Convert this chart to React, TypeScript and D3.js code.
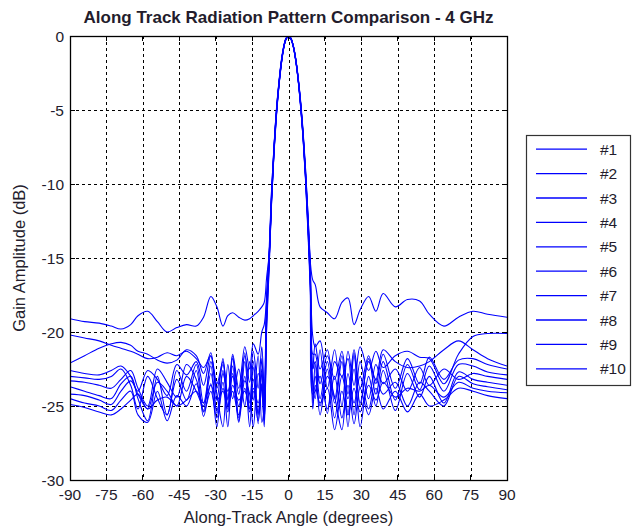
import React from "react";
import * as d3 from "d3";

// Along-track angle grid (degrees), shared by all series
const angles: number[] = [
  -90, -84, -78, -73, -69, -65, -62, -58, -54, -50, -46, -42, -38, -35, -32, -29.5, -27, -25, -23, -20.5, -18, -16, -14.5, -12.5, -11, -10,
  -9, -8, -7, -6, -5, -4, -3, -2, -1, 0, 1, 2, 3, 4, 5, 6, 7, 8, 9, 10,
  11, 13, 16, 19, 22, 24.5, 27, 29.5, 33, 36, 39, 44, 49, 54, 58, 64, 70, 76, 82, 90,
];

// Gain amplitude (dB) for each pattern
const s1: number[] = [
  -19.1, -19.3, -19.4, -19.6, -19.8, -19.5, -18.9, -18.6, -19.3, -20.0, -19.7, -19.5, -19.6, -19.0, -17.6, -18.3, -19.6, -18.9, -18.7, -19.0, -19.2, -19.1, -18.9, -18.6, -18.3, -18.0,
  -16.3, -14.8, -11.0, -7.8, -5.3, -3.4, -1.9, -0.8, -0.2, 0, -0.15, -0.7, -1.6, -2.9, -4.5, -6.5, -9.0, -12.0, -15.3, -16.5,
  -16.8, -18.3, -18.7, -19.1, -18.0, -17.7, -19.5, -18.5, -17.6, -18.6, -17.4, -18.3, -17.8, -17.9, -18.8, -19.6, -19.0, -18.6, -18.8, -19.0,
];
const s2: number[] = [
  -20.2, -20.4, -20.6, -20.9, -21.1, -21.3, -21.5, -21.8, -21.7, -21.4, -21.6, -21.3, -21.8, -22.4, -21.6, -23.5, -22.0, -24.5, -21.5, -23.8, -21.0, -22.5, -20.8, -21.5, -20.0, -19.5,
  -17.6, -15.0, -10.6, -7.6, -5.1, -3.3, -1.8, -0.75, -0.15, 0, -0.2, -0.75, -1.7, -3.0, -4.7, -6.8, -9.4, -12.6, -16.2, -20.3,
  -21.0, -20.6, -23.8, -21.2, -25.0, -21.3, -23.6, -21.0, -22.6, -21.3, -22.4, -21.6, -21.3, -21.7, -21.8, -23.5, -21.5, -20.3, -20.1, -20.1,
];
const s3: number[] = [
  -22.1, -21.6, -21.1, -20.8, -20.7, -20.9, -21.3, -21.5, -21.9, -22.1, -21.9, -21.2, -21.6, -22.8, -21.4, -24.5, -21.8, -25.2, -21.6, -25.8, -21.4, -24.8, -22.0, -25.6, -22.5, -25.5,
  -18.5, -15.3, -11.3, -7.9, -5.4, -3.5, -1.9, -0.8, -0.2, 0, -0.15, -0.7, -1.6, -2.9, -4.6, -6.7, -9.3, -12.5, -16.5, -22.5,
  -20.8, -22.5, -21.2, -24.5, -21.6, -25.5, -21.4, -24.8, -22.0, -23.2, -21.2, -22.0, -22.4, -22.3, -22.0, -21.2, -20.6, -21.2, -21.8, -22.3,
];
const s4: number[] = [
  -22.6, -22.8, -22.9, -22.6, -22.3, -23.0, -24.0, -22.6, -23.2, -24.3, -22.2, -22.9, -22.0, -23.6, -21.6, -23.8, -22.2, -24.6, -21.8, -24.2, -21.6, -23.4, -21.3, -23.8, -21.0, -24.0,
  -17.8, -15.2, -10.9, -7.7, -5.2, -3.4, -1.8, -0.8, -0.2, 0, -0.2, -0.7, -1.6, -2.9, -4.6, -6.6, -9.2, -12.3, -15.8, -21.5,
  -21.5, -23.5, -21.6, -23.2, -21.3, -24.2, -21.2, -23.8, -21.6, -23.5, -21.5, -23.8, -21.8, -23.5, -21.7, -23.2, -21.9, -21.8, -22.2, -22.5,
];
const s5: number[] = [
  -23.0, -23.1, -23.2, -23.0, -22.5, -23.6, -25.2, -23.0, -24.5, -25.6, -22.6, -24.0, -22.2, -24.8, -22.3, -25.5, -22.6, -25.0, -22.3, -26.0, -22.0, -25.2, -22.4, -26.2, -21.8, -24.5,
  -18.0, -14.6, -10.5, -7.5, -5.0, -3.2, -1.7, -0.7, -0.15, 0, -0.15, -0.65, -1.55, -2.8, -4.4, -6.4, -8.9, -12.0, -15.5, -22.5,
  -22.0, -24.5, -22.0, -24.8, -22.0, -26.4, -21.6, -25.0, -21.8, -24.2, -22.0, -24.6, -22.2, -23.9, -22.3, -24.0, -22.2, -22.3, -22.7, -22.9,
];
const s6: number[] = [
  -23.3, -23.4, -23.6, -23.8, -23.2, -22.6, -23.8, -25.0, -22.5, -23.4, -24.4, -22.2, -23.2, -25.3, -22.0, -24.2, -26.4, -22.2, -24.5, -22.5, -25.0, -22.0, -24.6, -21.6, -26.1, -25.0,
  -18.2, -15.0, -11.1, -7.9, -5.3, -3.4, -1.9, -0.8, -0.2, -0.05, -0.2, -0.75, -1.7, -3.0, -4.7, -6.8, -9.5, -12.8, -16.8, -23.5,
  -24.5, -21.2, -25.5, -22.0, -23.0, -21.8, -25.6, -22.0, -24.5, -22.2, -23.5, -22.5, -24.0, -22.4, -23.6, -22.5, -23.2, -22.8, -23.0, -23.2,
];
const s7: number[] = [
  -23.7, -24.0, -24.3, -24.5, -23.5, -23.0, -24.5, -26.0, -23.0, -25.6, -23.2, -24.6, -22.6, -25.7, -23.5, -26.4, -22.8, -24.0, -23.0, -26.1, -23.3, -24.2, -26.4, -22.8, -24.0, -26.0,
  -19.5, -15.6, -11.4, -8.0, -5.5, -3.5, -2.0, -0.85, -0.2, 0, -0.2, -0.7, -1.65, -3.0, -4.8, -6.9, -9.6, -13.0, -17.0, -24.0,
  -23.0, -25.0, -22.5, -25.8, -23.0, -24.5, -22.5, -26.4, -23.0, -25.0, -22.6, -25.3, -22.8, -24.4, -23.0, -24.8, -22.7, -23.2, -23.4, -23.6,
];
const s8: number[] = [
  -24.2, -24.3, -24.6, -24.9, -24.0, -23.3, -24.2, -25.2, -23.4, -24.0, -25.0, -23.0, -24.0, -25.0, -22.8, -25.3, -23.4, -26.4, -22.8, -25.0, -23.0, -26.4, -23.2, -25.5, -22.8, -25.8,
  -19.0, -15.4, -11.0, -7.7, -5.2, -3.3, -1.85, -0.8, -0.2, 0, -0.15, -0.7, -1.6, -2.95, -4.6, -6.7, -9.3, -12.6, -16.4, -24.8,
  -22.2, -25.6, -23.0, -24.4, -26.6, -22.8, -24.8, -23.0, -25.2, -23.2, -24.2, -23.4, -25.0, -23.4, -24.0, -25.0, -23.0, -23.5, -23.7, -23.9,
];
const s9: number[] = [
  -24.5, -24.8, -25.0, -25.3, -24.6, -24.0, -25.6, -26.1, -24.0, -26.0, -24.3, -25.0, -23.5, -25.4, -24.0, -25.8, -23.8, -25.0, -24.0, -25.6, -23.8, -25.4, -24.0, -26.0, -23.6, -26.4,
  -19.8, -15.8, -11.2, -7.9, -5.4, -3.4, -1.95, -0.85, -0.2, -0.05, -0.2, -0.75, -1.7, -3.05, -4.8, -6.9, -9.7, -13.2, -17.5, -25.2,
  -23.6, -24.8, -23.8, -26.6, -24.0, -25.6, -23.8, -25.4, -23.6, -24.6, -23.4, -24.4, -23.8, -24.0, -23.6, -24.4, -23.4, -23.8, -24.0, -24.1,
];
const s10: number[] = [
  -24.9, -25.1, -25.4, -25.6, -25.2, -24.6, -24.2, -25.2, -24.6, -24.4, -25.0, -24.6, -24.0, -24.8, -23.6, -24.6, -24.0, -25.4, -23.6, -24.6, -24.0, -25.2, -23.8, -24.8, -23.5, -26.0,
  -18.8, -15.1, -10.8, -7.6, -5.1, -3.25, -1.8, -0.75, -0.15, 0, -0.15, -0.7, -1.6, -2.9, -4.55, -6.6, -9.2, -12.4, -16.2, -24.2,
  -24.0, -23.0, -25.2, -23.0, -25.8, -23.6, -26.2, -23.8, -25.6, -23.8, -25.2, -24.0, -25.4, -24.2, -25.0, -24.6, -23.8, -24.0, -24.3, -24.5,
];

const seriesValues: number[][] = [s1, s2, s3, s4, s5, s6, s7, s8, s9, s10];
const seriesNames: string[] = ["#1", "#2", "#3", "#4", "#5", "#6", "#7", "#8", "#9", "#10"];

const xTicks: number[] = [-90, -75, -60, -45, -30, -15, 0, 15, 30, 45, 60, 75, 90];
const yTicks: number[] = [0, -5, -10, -15, -20, -25, -30];

const title = "Along Track Radiation Pattern Comparison - 4 GHz";
const xLabel = "Along-Track Angle (degrees)";
const yLabel = "Gain Amplitude (dB)";

const W = 637;
const H = 529;
const plot = { left: 70, right: 507, top: 36, bottom: 480 };
const legendBox = { x: 526, y: 135, w: 104, h: 250 };
const textColor = "#231c2c";
const font = "Arial, 'Liberation Sans', Helvetica, sans-serif";

export default function App() {
  const x = d3.scaleLinear().domain([-90, 90]).range([plot.left, plot.right]);
  const y = d3.scaleLinear().domain([-30, 0]).range([plot.bottom, plot.top]);
  const line = d3
    .line<[number, number]>()
    .x((d) => x(d[0]))
    .y((d) => y(d[1]))
    .curve(d3.curveCatmullRom.alpha(0.5));

  const paths = seriesValues.map((vals) => {
    const n = Math.min(vals.length, angles.length);
    const pts: [number, number][] = [];
    for (let i = 0; i < n; i++) pts.push([angles[i], vals[i]]);
    return line(pts) || "";
  });

  const legendRow = d3
    .scaleBand<string>()
    .domain(seriesNames)
    .range([legendBox.y + 2, legendBox.y + legendBox.h - 4]);

  return (
    <svg
      width={W}
      height={H}
      style={{ position: "absolute", left: 0, top: 0, background: "#fff" }}
      fontFamily={font}
    >
      <defs>
        <clipPath id="plotClip">
          <rect x={plot.left} y={plot.top} width={plot.right - plot.left} height={plot.bottom - plot.top} />
        </clipPath>
      </defs>
      <rect x={0} y={0} width={W} height={H} fill="#fff" />
      {/* grid */}
      <g stroke="#000" strokeWidth={1} strokeDasharray="3,3" shapeRendering="crispEdges">
        {xTicks
          .filter((t) => t !== -90 && t !== 90)
          .map((t) => (
            <line key={"gx" + t} x1={Math.round(x(t)) + 0.5} x2={Math.round(x(t)) + 0.5} y1={plot.top} y2={plot.bottom} />
          ))}
        {yTicks
          .filter((t) => t !== 0 && t !== -30)
          .map((t) => (
            <line key={"gy" + t} x1={plot.left} x2={plot.right} y1={Math.round(y(t)) + 0.5} y2={Math.round(y(t)) + 0.5} />
          ))}
      </g>
      {/* data */}
      <g clipPath="url(#plotClip)" fill="none" stroke="#0000ff" strokeWidth={1.1}>
        {paths.map((d, i) => (
          <path key={i} d={d} />
        ))}
      </g>
      {/* ticks */}
      <g stroke="#000" strokeWidth={1} shapeRendering="crispEdges">
        {xTicks.map((t) => (
          <g key={"tx" + t}>
            <line x1={x(t)} x2={x(t)} y1={plot.bottom} y2={plot.bottom - 5} />
            <line x1={x(t)} x2={x(t)} y1={plot.top} y2={plot.top + 5} />
          </g>
        ))}
        {yTicks.map((t) => (
          <g key={"ty" + t}>
            <line x1={plot.left} x2={plot.left + 5} y1={y(t)} y2={y(t)} />
            <line x1={plot.right} x2={plot.right - 5} y1={y(t)} y2={y(t)} />
          </g>
        ))}
      </g>
      {/* box */}
      <rect
        x={plot.left + 0.5}
        y={plot.top + 0.5}
        width={plot.right - plot.left}
        height={plot.bottom - plot.top}
        fill="none"
        stroke="#000"
        strokeWidth={1.3}
      />
      {/* tick labels */}
      <g fill={textColor} fontSize={15.5}>
        {xTicks.map((t) => (
          <text key={"lx" + t} x={x(t)} y={plot.bottom + 20} textAnchor="middle">
            {t}
          </text>
        ))}
        {yTicks.map((t) => (
          <text key={"ly" + t} x={plot.left - 6} y={y(t) + 5.5} textAnchor="end">
            {t}
          </text>
        ))}
      </g>
      {/* labels */}
      <text x={(plot.left + plot.right) / 2} y={23} textAnchor="middle" fontWeight="bold" fontSize={17} fill={textColor}>
        {title}
      </text>
      <text x={(plot.left + plot.right) / 2} y={523} textAnchor="middle" fontSize={16.5} fill={textColor}>
        {xLabel}
      </text>
      <text
        transform={`translate(25, ${(plot.top + plot.bottom) / 2}) rotate(-90)`}
        textAnchor="middle"
        fontSize={16.5}
        fill={textColor}
      >
        {yLabel}
      </text>
      {/* legend */}
      <rect
        x={legendBox.x + 0.5}
        y={legendBox.y + 0.5}
        width={legendBox.w}
        height={legendBox.h}
        fill="#fff"
        stroke="#333"
        strokeWidth={1.2}
      />
      {seriesNames.map((name) => {
        const cy = (legendRow(name) || 0) + legendRow.bandwidth() / 2;
        return (
          <g key={name}>
            <line x1={536} x2={587} y1={cy} y2={cy} stroke="#0000ff" strokeWidth={1.3} />
            <text x={600} y={cy + 5.5} fontSize={15.5} fill={textColor}>
              {name}
            </text>
          </g>
        );
      })}
    </svg>
  );
}
